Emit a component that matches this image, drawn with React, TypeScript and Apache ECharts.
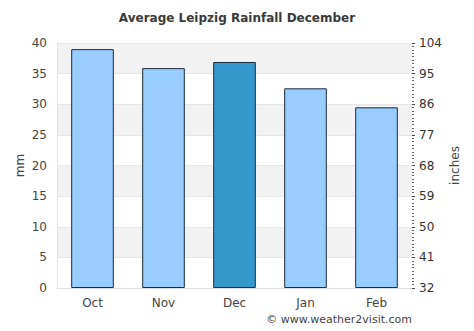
import React, { useEffect, useRef } from "react";
import * as echarts from "echarts";

const categories = ["Oct", "Nov", "Dec", "Jan", "Feb"];
const rainfallMm = [39, 35.9, 36.9, 32.6, 29.5];
const highlightIndex = 2;
const leftTicks = [0, 5, 10, 15, 20, 25, 30, 35, 40];
const rightTickLabels = ["32", "41", "50", "59", "68", "77", "86", "95", "104"];

const FONT = "DejaVu Sans";

export default function App() {
  const ref = useRef<HTMLDivElement>(null);
  useEffect(() => {
    if (!ref.current) return;
    const chart = echarts.init(ref.current, undefined, { renderer: "svg" });
    chart.setOption({
      animation: false,
      textStyle: { fontFamily: FONT },
      title: {
        text: "Average Leipzig Rainfall December",
        left: "center",
        top: 7,
        textStyle: { fontFamily: FONT, fontSize: 12, fontWeight: "bold", color: "#3a3a3a" },
      },
      graphic: [
        {
          type: "text",
          right: 62,
          top: 314,
          style: { text: "© www.weather2visit.com", fontFamily: FONT, fontSize: 11, fill: "#444" },
        },
      ],
      grid: { left: 57, right: 62, top: 43, bottom: 43, containLabel: false, show: false },
      xAxis: {
        type: "category",
        data: categories,
        axisLine: { show: true, lineStyle: { color: "#ddd" } },
        axisTick: { show: false },
        axisLabel: { color: "#444", fontSize: 12, fontFamily: FONT, margin: 9 },
      },
      yAxis: [
        {
          type: "value",
          min: leftTicks[0],
          max: leftTicks[leftTicks.length - 1],
          interval: 5,
          name: "mm",
          nameLocation: "middle",
          nameGap: 31,
          nameMoveOverlap: false,
          nameTextStyle: { color: "#444", fontSize: 12, fontFamily: FONT },
          axisLine: { show: true, lineStyle: { color: "#e6e6e6" } },
          axisTick: { show: false },
          axisLabel: { color: "#444", fontSize: 12, fontFamily: FONT, margin: 10 },
          splitLine: { show: true, lineStyle: { color: "#e6e6e6" } },
          splitArea: { show: true, areaStyle: { color: ["#ffffff", "#f2f2f2"] } },
        },
        {
          type: "value",
          min: 0,
          max: 72,
          interval: 9,
          position: "right",
          name: "inches",
          nameLocation: "middle",
          nameGap: 37,
          nameMoveOverlap: false,
          nameTextStyle: { color: "#444", fontSize: 12, fontFamily: FONT },
          axisLine: { show: false },
          axisTick: { show: true, length: 3, inside: false, lineStyle: { color: "#444" } },
          minorTick: { show: true, splitNumber: 9, length: 2, lineStyle: { color: "#666" } },
          axisLabel: {
            color: "#333",
            fontSize: 12,
            fontFamily: FONT,
            margin: 7,
            formatter: (v: number) => rightTickLabels[Math.round(v / 9)] ?? "",
          },
          splitLine: { show: false },
        },
      ],
      series: [
        {
          type: "bar",
          yAxisIndex: 0,
          barWidth: "60%",
          data: rainfallMm.map((v, i) => ({
            value: v,
            itemStyle: { color: i === highlightIndex ? "#3399cc" : "#99ccff" },
          })),
          itemStyle: { borderColor: "#1c2b3a", borderWidth: 1 },
        },
      ],
    });
    return () => chart.dispose();
  }, []);
  return <div ref={ref} style={{ width: 474, height: 331, margin: -8 }} />;
}
